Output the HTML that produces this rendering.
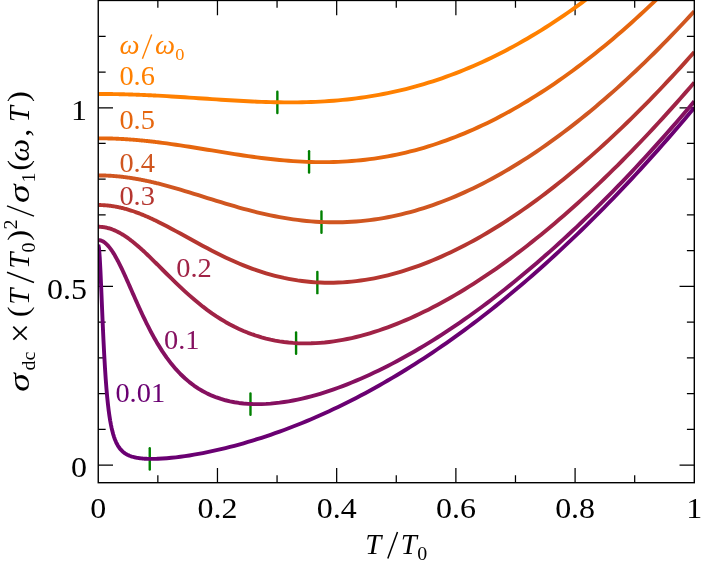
<!DOCTYPE html>
<html><head><meta charset="utf-8"><style>
html,body{margin:0;padding:0;background:#fff;}
body{width:706px;height:564px;overflow:hidden;}
svg{display:block;will-change:transform;font-family:"Liberation Serif",serif;font-size:28.8px;}
</style></head><body>
<svg width="706" height="564" viewBox="0 0 706 564">
<defs><clipPath id="cp"><rect x="98.25" y="0.45" width="596.05" height="482.25"/></clipPath></defs>
<rect width="706" height="564" fill="#fff"/>
<path d="M157.85,482.70 v-7.40 M157.85,0.45 v7.40 M217.46,482.70 v-14.75 M217.46,0.45 v14.75 M277.06,482.70 v-7.40 M277.06,0.45 v7.40 M336.67,482.70 v-14.75 M336.67,0.45 v14.75 M396.27,482.70 v-7.40 M396.27,0.45 v7.40 M455.88,482.70 v-14.75 M455.88,0.45 v14.75 M515.48,482.70 v-7.40 M515.48,0.45 v7.40 M575.09,482.70 v-14.75 M575.09,0.45 v14.75 M634.69,482.70 v-7.40 M634.69,0.45 v7.40 M98.25,465.00 h14.75 M694.30,465.00 h-14.75 M98.25,429.27 h7.40 M694.30,429.27 h-7.40 M98.25,393.55 h7.40 M694.30,393.55 h-7.40 M98.25,357.82 h7.40 M694.30,357.82 h-7.40 M98.25,322.10 h7.40 M694.30,322.10 h-7.40 M98.25,286.38 h14.75 M694.30,286.38 h-14.75 M98.25,250.65 h7.40 M694.30,250.65 h-7.40 M98.25,214.93 h7.40 M694.30,214.93 h-7.40 M98.25,179.20 h7.40 M694.30,179.20 h-7.40 M98.25,143.47 h7.40 M694.30,143.47 h-7.40 M98.25,107.75 h14.75 M694.30,107.75 h-14.75 M98.25,72.02 h7.40 M694.30,72.02 h-7.40 M98.25,36.30 h7.40 M694.30,36.30 h-7.40" stroke="#000" stroke-width="1.25" fill="none"/>
<g fill="none" stroke="#008000" stroke-width="2.4" stroke-linecap="round">
<path d="M149.75,448.29 v21.30"/>
<path d="M250.48,393.38 v21.30"/>
<path d="M296.08,332.50 v21.30"/>
<path d="M317.36,271.83 v21.30"/>
<path d="M321.47,211.42 v21.30"/>
<path d="M309.07,151.32 v21.30"/>
<path d="M277.36,91.68 v21.30"/>
</g>
<g fill="none" stroke-width="3.9" stroke-linejoin="round" stroke-linecap="butt" clip-path="url(#cp)">
<path d="M98.25,244.61 L99.00,247.97 L99.74,257.54 L100.49,271.74 L101.23,288.64 L101.98,306.46 L102.72,323.88 L103.47,340.09 L104.21,354.70 L104.96,367.59 L105.70,378.84 L106.45,388.58 L107.19,396.98 L107.94,404.22 L108.68,410.48 L109.43,415.89 L110.17,420.58 L110.92,424.66 L111.66,428.23 L112.41,431.35 L113.15,434.10 L113.90,436.52 L114.64,438.67 L115.39,440.58 L116.13,442.28 L116.88,443.80 L117.62,445.17 L118.37,446.39 L119.11,447.50 L119.86,448.50 L120.60,449.41 L121.35,450.23 L122.09,450.98 L122.84,451.66 L123.58,452.28 L124.33,452.85 L125.07,453.37 L125.82,453.85 L126.56,454.29 L127.31,454.69 L128.05,455.06 L128.80,455.40 L129.54,455.72 L130.29,456.01 L131.03,456.28 L131.78,456.53 L132.52,456.75 L133.27,456.97 L134.01,457.16 L134.76,457.34 L135.50,457.51 L136.25,457.66 L136.99,457.80 L137.74,457.93 L138.48,458.05 L139.23,458.15 L139.97,458.25 L140.72,458.34 L141.46,458.43 L142.21,458.50 L142.95,458.57 L143.70,458.63 L144.44,458.68 L145.19,458.73 L145.93,458.77 L146.68,458.80 L147.42,458.83 L148.17,458.86 L148.91,458.88 L149.66,458.89 L150.40,458.90 L151.15,458.91 L151.89,458.91 L152.64,458.91 L153.38,458.90 L154.13,458.89 L154.87,458.88 L155.62,458.86 L156.36,458.84 L157.11,458.81 L157.85,458.79 L162.36,458.55 L166.87,458.23 L171.38,457.81 L175.89,457.32 L180.39,456.76 L184.90,456.13 L189.41,455.45 L193.92,454.70 L198.43,453.91 L202.93,453.06 L207.44,452.16 L211.95,451.21 L216.46,450.22 L220.97,449.17 L225.47,448.08 L229.98,446.95 L234.49,445.77 L239.00,444.55 L243.51,443.28 L248.01,441.97 L252.52,440.62 L257.03,439.22 L261.54,437.79 L266.05,436.30 L270.55,434.78 L275.06,433.21 L279.57,431.61 L284.08,429.96 L288.59,428.26 L293.09,426.53 L297.60,424.76 L302.11,422.94 L306.62,421.08 L311.12,419.18 L315.63,417.24 L320.14,415.26 L324.65,413.23 L329.16,411.17 L333.66,409.06 L338.17,406.91 L342.68,404.72 L347.19,402.49 L351.70,400.22 L356.20,397.91 L360.71,395.55 L365.22,393.16 L369.73,390.72 L374.24,388.24 L378.74,385.72 L383.25,383.17 L387.76,380.56 L392.27,377.92 L396.78,375.24 L401.28,372.52 L405.79,369.75 L410.30,366.95 L414.81,364.10 L419.32,361.21 L423.82,358.28 L428.33,355.31 L432.84,352.30 L437.35,349.25 L441.86,346.16 L446.36,343.03 L450.87,339.85 L455.38,336.64 L459.89,333.38 L464.39,330.08 L468.90,326.74 L473.41,323.37 L477.92,319.95 L482.43,316.48 L486.93,312.98 L491.44,309.44 L495.95,305.86 L500.46,302.23 L504.97,298.57 L509.47,294.86 L513.98,291.11 L518.49,287.32 L523.00,283.50 L527.51,279.63 L532.01,275.71 L536.52,271.76 L541.03,267.77 L545.54,263.74 L550.05,259.66 L554.55,255.55 L559.06,251.39 L563.57,247.19 L568.08,242.95 L572.59,238.68 L577.09,234.36 L581.60,229.99 L586.11,225.59 L590.62,221.15 L595.13,216.67 L599.63,212.14 L604.14,207.58 L608.65,202.97 L613.16,198.32 L617.66,193.64 L622.17,188.91 L626.68,184.14 L631.19,179.33 L635.70,174.48 L640.20,169.58 L644.71,164.65 L649.22,159.68 L653.73,154.66 L658.24,149.60 L662.74,144.51 L667.25,139.37 L671.76,134.19 L676.27,128.97 L680.78,123.71 L685.28,118.41 L689.79,113.07 L694.30,107.69" stroke="#6a0072"/>
<path d="M98.25,240.11 L99.00,240.15 L99.74,240.25 L100.49,240.41 L101.23,240.65 L101.98,240.95 L102.72,241.31 L103.47,241.74 L104.21,242.23 L104.96,242.79 L105.70,243.40 L106.45,244.08 L107.19,244.81 L107.94,245.61 L108.68,246.46 L109.43,247.37 L110.17,248.33 L110.92,249.34 L111.66,250.40 L112.41,251.51 L113.15,252.66 L113.90,253.86 L114.64,255.11 L115.39,256.39 L116.13,257.71 L116.88,259.07 L117.62,260.47 L118.37,261.89 L119.11,263.35 L119.86,264.84 L120.60,266.35 L121.35,267.89 L122.09,269.45 L122.84,271.03 L123.58,272.63 L124.33,274.25 L125.07,275.88 L125.82,277.52 L126.56,279.18 L127.31,280.85 L128.05,282.53 L128.80,284.21 L129.54,285.90 L130.29,287.60 L131.03,289.29 L131.78,290.99 L132.52,292.69 L133.27,294.38 L134.01,296.07 L134.76,297.76 L135.50,299.44 L136.25,301.12 L136.99,302.79 L137.74,304.46 L138.48,306.11 L139.23,307.75 L139.97,309.39 L140.72,311.01 L141.46,312.62 L142.21,314.22 L142.95,315.80 L143.70,317.37 L144.44,318.93 L145.19,320.47 L145.93,322.00 L146.68,323.51 L147.42,325.01 L148.17,326.49 L148.91,327.95 L149.66,329.39 L150.40,330.82 L151.15,332.24 L151.89,333.63 L152.64,335.01 L153.38,336.37 L154.13,337.71 L154.87,339.03 L155.62,340.34 L156.36,341.62 L157.11,342.89 L157.85,344.14 L162.36,351.34 L166.87,357.88 L171.38,363.81 L175.89,369.17 L180.39,373.97 L184.90,378.28 L189.41,382.12 L193.92,385.55 L198.43,388.58 L202.93,391.25 L207.44,393.61 L211.95,395.66 L216.46,397.44 L220.97,398.97 L225.47,400.27 L229.98,401.35 L234.49,402.24 L239.00,402.94 L243.51,403.47 L248.01,403.84 L252.52,404.06 L257.03,404.14 L261.54,404.08 L266.05,403.90 L270.55,403.60 L275.06,403.18 L279.57,402.66 L284.08,402.03 L288.59,401.30 L293.09,400.48 L297.60,399.57 L302.11,398.57 L306.62,397.49 L311.12,396.32 L315.63,395.08 L320.14,393.76 L324.65,392.36 L329.16,390.89 L333.66,389.35 L338.17,387.75 L342.68,386.07 L347.19,384.34 L351.70,382.53 L356.20,380.67 L360.71,378.74 L365.22,376.75 L369.73,374.71 L374.24,372.60 L378.74,370.44 L383.25,368.22 L387.76,365.95 L392.27,363.62 L396.78,361.24 L401.28,358.81 L405.79,356.32 L410.30,353.78 L414.81,351.19 L419.32,348.55 L423.82,345.85 L428.33,343.11 L432.84,340.32 L437.35,337.48 L441.86,334.59 L446.36,331.65 L450.87,328.67 L455.38,325.63 L459.89,322.55 L464.39,319.43 L468.90,316.25 L473.41,313.03 L477.92,309.76 L482.43,306.45 L486.93,303.09 L491.44,299.69 L495.95,296.24 L500.46,292.74 L504.97,289.20 L509.47,285.62 L513.98,281.99 L518.49,278.31 L523.00,274.59 L527.51,270.83 L532.01,267.02 L536.52,263.17 L541.03,259.28 L545.54,255.34 L550.05,251.36 L554.55,247.33 L559.06,243.26 L563.57,239.15 L568.08,234.99 L572.59,230.80 L577.09,226.55 L581.60,222.27 L586.11,217.94 L590.62,213.57 L595.13,209.16 L599.63,204.70 L604.14,200.20 L608.65,195.66 L613.16,191.07 L617.66,186.45 L622.17,181.78 L626.68,177.07 L631.19,172.31 L635.70,167.52 L640.20,162.68 L644.71,157.80 L649.22,152.88 L653.73,147.91 L658.24,142.91 L662.74,137.86 L667.25,132.77 L671.76,127.63 L676.27,122.46 L680.78,117.24 L685.28,111.98 L689.79,106.68 L694.30,101.34" stroke="#851060"/>
<path d="M98.25,226.76 L99.00,226.77 L99.74,226.79 L100.49,226.83 L101.23,226.88 L101.98,226.95 L102.72,227.04 L103.47,227.13 L104.21,227.25 L104.96,227.38 L105.70,227.52 L106.45,227.68 L107.19,227.86 L107.94,228.04 L108.68,228.25 L109.43,228.46 L110.17,228.70 L110.92,228.94 L111.66,229.20 L112.41,229.48 L113.15,229.77 L113.90,230.07 L114.64,230.39 L115.39,230.72 L116.13,231.06 L116.88,231.41 L117.62,231.78 L118.37,232.17 L119.11,232.56 L119.86,232.97 L120.60,233.39 L121.35,233.82 L122.09,234.26 L122.84,234.71 L123.58,235.18 L124.33,235.66 L125.07,236.14 L125.82,236.64 L126.56,237.15 L127.31,237.67 L128.05,238.20 L128.80,238.74 L129.54,239.29 L130.29,239.85 L131.03,240.42 L131.78,240.99 L132.52,241.58 L133.27,242.17 L134.01,242.78 L134.76,243.39 L135.50,244.01 L136.25,244.63 L136.99,245.26 L137.74,245.90 L138.48,246.55 L139.23,247.20 L139.97,247.86 L140.72,248.53 L141.46,249.20 L142.21,249.88 L142.95,250.56 L143.70,251.25 L144.44,251.94 L145.19,252.64 L145.93,253.34 L146.68,254.04 L147.42,254.75 L148.17,255.47 L148.91,256.18 L149.66,256.90 L150.40,257.63 L151.15,258.35 L151.89,259.08 L152.64,259.81 L153.38,260.55 L154.13,261.28 L154.87,262.02 L155.62,262.76 L156.36,263.50 L157.11,264.24 L157.85,264.99 L162.36,269.50 L166.87,274.00 L171.38,278.47 L175.89,282.87 L180.39,287.18 L184.90,291.36 L189.41,295.42 L193.92,299.33 L198.43,303.08 L202.93,306.66 L207.44,310.07 L211.95,313.31 L216.46,316.36 L220.97,319.24 L225.47,321.94 L229.98,324.45 L234.49,326.80 L239.00,328.97 L243.51,330.97 L248.01,332.80 L252.52,334.47 L257.03,335.99 L261.54,337.35 L266.05,338.56 L270.55,339.62 L275.06,340.55 L279.57,341.33 L284.08,341.99 L288.59,342.51 L293.09,342.91 L297.60,343.18 L302.11,343.34 L306.62,343.37 L311.12,343.30 L315.63,343.12 L320.14,342.83 L324.65,342.44 L329.16,341.94 L333.66,341.35 L338.17,340.66 L342.68,339.88 L347.19,339.01 L351.70,338.04 L356.20,336.99 L360.71,335.86 L365.22,334.64 L369.73,333.34 L374.24,331.95 L378.74,330.49 L383.25,328.95 L387.76,327.34 L392.27,325.65 L396.78,323.89 L401.28,322.06 L405.79,320.16 L410.30,318.19 L414.81,316.14 L419.32,314.04 L423.82,311.86 L428.33,309.63 L432.84,307.32 L437.35,304.96 L441.86,302.53 L446.36,300.04 L450.87,297.49 L455.38,294.88 L459.89,292.21 L464.39,289.48 L468.90,286.69 L473.41,283.85 L477.92,280.95 L482.43,277.99 L486.93,274.98 L491.44,271.91 L495.95,268.79 L500.46,265.61 L504.97,262.38 L509.47,259.10 L513.98,255.76 L518.49,252.37 L523.00,248.93 L527.51,245.44 L532.01,241.90 L536.52,238.31 L541.03,234.66 L545.54,230.97 L550.05,227.22 L554.55,223.43 L559.06,219.59 L563.57,215.69 L568.08,211.75 L572.59,207.76 L577.09,203.73 L581.60,199.64 L586.11,195.51 L590.62,191.33 L595.13,187.10 L599.63,182.83 L604.14,178.50 L608.65,174.13 L613.16,169.72 L617.66,165.26 L622.17,160.75 L626.68,156.20 L631.19,151.60 L635.70,146.95 L640.20,142.26 L644.71,137.52 L649.22,132.74 L653.73,127.91 L658.24,123.04 L662.74,118.12 L667.25,113.16 L671.76,108.16 L676.27,103.10 L680.78,98.01 L685.28,92.87 L689.79,87.68 L694.30,82.45" stroke="#a02346"/>
<path d="M98.25,205.03 L99.00,205.03 L99.74,205.04 L100.49,205.06 L101.23,205.08 L101.98,205.10 L102.72,205.14 L103.47,205.18 L104.21,205.22 L104.96,205.27 L105.70,205.33 L106.45,205.39 L107.19,205.45 L107.94,205.53 L108.68,205.61 L109.43,205.69 L110.17,205.78 L110.92,205.88 L111.66,205.98 L112.41,206.09 L113.15,206.20 L113.90,206.32 L114.64,206.45 L115.39,206.58 L116.13,206.71 L116.88,206.85 L117.62,207.00 L118.37,207.15 L119.11,207.31 L119.86,207.47 L120.60,207.64 L121.35,207.81 L122.09,207.99 L122.84,208.18 L123.58,208.37 L124.33,208.56 L125.07,208.76 L125.82,208.96 L126.56,209.17 L127.31,209.39 L128.05,209.60 L128.80,209.83 L129.54,210.06 L130.29,210.29 L131.03,210.53 L131.78,210.77 L132.52,211.02 L133.27,211.27 L134.01,211.52 L134.76,211.78 L135.50,212.05 L136.25,212.32 L136.99,212.59 L137.74,212.87 L138.48,213.15 L139.23,213.44 L139.97,213.73 L140.72,214.02 L141.46,214.32 L142.21,214.62 L142.95,214.92 L143.70,215.23 L144.44,215.54 L145.19,215.86 L145.93,216.18 L146.68,216.50 L147.42,216.82 L148.17,217.15 L148.91,217.49 L149.66,217.82 L150.40,218.16 L151.15,218.50 L151.89,218.84 L152.64,219.19 L153.38,219.54 L154.13,219.90 L154.87,220.25 L155.62,220.61 L156.36,220.97 L157.11,221.33 L157.85,221.70 L162.36,223.96 L166.87,226.29 L171.38,228.68 L175.89,231.11 L180.39,233.57 L184.90,236.05 L189.41,238.54 L193.92,241.02 L198.43,243.48 L202.93,245.91 L207.44,248.31 L211.95,250.66 L216.46,252.96 L220.97,255.20 L225.47,257.38 L229.98,259.49 L234.49,261.51 L239.00,263.46 L243.51,265.33 L248.01,267.11 L252.52,268.80 L257.03,270.39 L261.54,271.89 L266.05,273.30 L270.55,274.61 L275.06,275.82 L279.57,276.94 L284.08,277.96 L288.59,278.87 L293.09,279.69 L297.60,280.42 L302.11,281.04 L306.62,281.56 L311.12,281.99 L315.63,282.33 L320.14,282.56 L324.65,282.71 L329.16,282.75 L333.66,282.71 L338.17,282.57 L342.68,282.35 L347.19,282.03 L351.70,281.62 L356.20,281.13 L360.71,280.55 L365.22,279.88 L369.73,279.13 L374.24,278.30 L378.74,277.38 L383.25,276.38 L387.76,275.30 L392.27,274.14 L396.78,272.90 L401.28,271.59 L405.79,270.19 L410.30,268.73 L414.81,267.18 L419.32,265.56 L423.82,263.87 L428.33,262.11 L432.84,260.28 L437.35,258.37 L441.86,256.40 L446.36,254.35 L450.87,252.24 L455.38,250.06 L459.89,247.82 L464.39,245.51 L468.90,243.13 L473.41,240.69 L477.92,238.18 L482.43,235.61 L486.93,232.98 L491.44,230.29 L495.95,227.53 L500.46,224.72 L504.97,221.84 L509.47,218.90 L513.98,215.91 L518.49,212.86 L523.00,209.74 L527.51,206.57 L532.01,203.34 L536.52,200.06 L541.03,196.72 L545.54,193.32 L550.05,189.87 L554.55,186.36 L559.06,182.80 L563.57,179.18 L568.08,175.51 L572.59,171.79 L577.09,168.01 L581.60,164.18 L586.11,160.30 L590.62,156.36 L595.13,152.37 L599.63,148.33 L604.14,144.24 L608.65,140.10 L613.16,135.91 L617.66,131.66 L622.17,127.37 L626.68,123.03 L631.19,118.63 L635.70,114.19 L640.20,109.70 L644.71,105.15 L649.22,100.56 L653.73,95.92 L658.24,91.24 L662.74,86.50 L667.25,81.71 L671.76,76.88 L676.27,72.00 L680.78,67.07 L685.28,62.10 L689.79,57.07 L694.30,52.00" stroke="#b53630"/>
<path d="M98.25,175.42 L99.00,175.43 L99.74,175.43 L100.49,175.44 L101.23,175.45 L101.98,175.46 L102.72,175.47 L103.47,175.49 L104.21,175.51 L104.96,175.54 L105.70,175.56 L106.45,175.59 L107.19,175.62 L107.94,175.65 L108.68,175.69 L109.43,175.73 L110.17,175.77 L110.92,175.82 L111.66,175.86 L112.41,175.91 L113.15,175.97 L113.90,176.02 L114.64,176.08 L115.39,176.14 L116.13,176.20 L116.88,176.27 L117.62,176.34 L118.37,176.41 L119.11,176.48 L119.86,176.56 L120.60,176.64 L121.35,176.72 L122.09,176.80 L122.84,176.89 L123.58,176.98 L124.33,177.07 L125.07,177.16 L125.82,177.26 L126.56,177.36 L127.31,177.46 L128.05,177.56 L128.80,177.67 L129.54,177.77 L130.29,177.88 L131.03,178.00 L131.78,178.11 L132.52,178.23 L133.27,178.35 L134.01,178.47 L134.76,178.60 L135.50,178.72 L136.25,178.85 L136.99,178.98 L137.74,179.12 L138.48,179.25 L139.23,179.39 L139.97,179.53 L140.72,179.67 L141.46,179.82 L142.21,179.96 L142.95,180.11 L143.70,180.26 L144.44,180.41 L145.19,180.57 L145.93,180.72 L146.68,180.88 L147.42,181.04 L148.17,181.20 L148.91,181.37 L149.66,181.53 L150.40,181.70 L151.15,181.87 L151.89,182.04 L152.64,182.21 L153.38,182.39 L154.13,182.56 L154.87,182.74 L155.62,182.92 L156.36,183.10 L157.11,183.28 L157.85,183.47 L162.36,184.62 L166.87,185.82 L171.38,187.06 L175.89,188.35 L180.39,189.68 L184.90,191.03 L189.41,192.40 L193.92,193.79 L198.43,195.20 L202.93,196.61 L207.44,198.02 L211.95,199.43 L216.46,200.83 L220.97,202.21 L225.47,203.58 L229.98,204.92 L234.49,206.24 L239.00,207.52 L243.51,208.77 L248.01,209.98 L252.52,211.15 L257.03,212.28 L261.54,213.35 L266.05,214.37 L270.55,215.35 L275.06,216.26 L279.57,217.12 L284.08,217.91 L288.59,218.65 L293.09,219.32 L297.60,219.93 L302.11,220.47 L306.62,220.94 L311.12,221.35 L315.63,221.69 L320.14,221.95 L324.65,222.15 L329.16,222.27 L333.66,222.32 L338.17,222.30 L342.68,222.21 L347.19,222.04 L351.70,221.80 L356.20,221.49 L360.71,221.10 L365.22,220.64 L369.73,220.11 L374.24,219.50 L378.74,218.82 L383.25,218.07 L387.76,217.24 L392.27,216.35 L396.78,215.38 L401.28,214.34 L405.79,213.22 L410.30,212.04 L414.81,210.78 L419.32,209.46 L423.82,208.06 L428.33,206.59 L432.84,205.06 L437.35,203.45 L441.86,201.78 L446.36,200.04 L450.87,198.23 L455.38,196.35 L459.89,194.41 L464.39,192.40 L468.90,190.33 L473.41,188.19 L477.92,185.98 L482.43,183.71 L486.93,181.37 L491.44,178.98 L495.95,176.51 L500.46,173.99 L504.97,171.40 L509.47,168.75 L513.98,166.04 L518.49,163.27 L523.00,160.44 L527.51,157.55 L532.01,154.59 L536.52,151.58 L541.03,148.51 L545.54,145.38 L550.05,142.19 L554.55,138.94 L559.06,135.64 L563.57,132.28 L568.08,128.86 L572.59,125.38 L577.09,121.85 L581.60,118.26 L586.11,114.62 L590.62,110.92 L595.13,107.17 L599.63,103.36 L604.14,99.50 L608.65,95.58 L613.16,91.61 L617.66,87.58 L622.17,83.51 L626.68,79.38 L631.19,75.19 L635.70,70.96 L640.20,66.67 L644.71,62.33 L649.22,57.93 L653.73,53.49 L658.24,49.00 L662.74,44.45 L667.25,39.85 L671.76,35.21 L676.27,30.51 L680.78,25.76 L685.28,20.96 L689.79,16.11 L694.30,11.22" stroke="#d05620"/>
<path d="M98.25,138.33 L99.00,138.33 L99.74,138.33 L100.49,138.33 L101.23,138.34 L101.98,138.34 L102.72,138.35 L103.47,138.36 L104.21,138.37 L104.96,138.38 L105.70,138.39 L106.45,138.41 L107.19,138.42 L107.94,138.44 L108.68,138.45 L109.43,138.47 L110.17,138.49 L110.92,138.51 L111.66,138.54 L112.41,138.56 L113.15,138.59 L113.90,138.61 L114.64,138.64 L115.39,138.67 L116.13,138.70 L116.88,138.73 L117.62,138.77 L118.37,138.80 L119.11,138.84 L119.86,138.87 L120.60,138.91 L121.35,138.95 L122.09,138.99 L122.84,139.03 L123.58,139.07 L124.33,139.12 L125.07,139.16 L125.82,139.21 L126.56,139.26 L127.31,139.31 L128.05,139.36 L128.80,139.41 L129.54,139.46 L130.29,139.51 L131.03,139.57 L131.78,139.62 L132.52,139.68 L133.27,139.74 L134.01,139.80 L134.76,139.86 L135.50,139.92 L136.25,139.98 L136.99,140.05 L137.74,140.11 L138.48,140.18 L139.23,140.25 L139.97,140.32 L140.72,140.38 L141.46,140.45 L142.21,140.53 L142.95,140.60 L143.70,140.67 L144.44,140.75 L145.19,140.82 L145.93,140.90 L146.68,140.98 L147.42,141.06 L148.17,141.14 L148.91,141.22 L149.66,141.30 L150.40,141.38 L151.15,141.46 L151.89,141.55 L152.64,141.63 L153.38,141.72 L154.13,141.81 L154.87,141.90 L155.62,141.98 L156.36,142.07 L157.11,142.17 L157.85,142.26 L162.36,142.83 L166.87,143.43 L171.38,144.06 L175.89,144.71 L180.39,145.38 L184.90,146.07 L189.41,146.78 L193.92,147.50 L198.43,148.23 L202.93,148.97 L207.44,149.71 L211.95,150.45 L216.46,151.20 L220.97,151.93 L225.47,152.67 L229.98,153.39 L234.49,154.10 L239.00,154.79 L243.51,155.47 L248.01,156.13 L252.52,156.76 L257.03,157.37 L261.54,157.95 L266.05,158.51 L270.55,159.03 L275.06,159.52 L279.57,159.97 L284.08,160.38 L288.59,160.76 L293.09,161.09 L297.60,161.38 L302.11,161.63 L306.62,161.83 L311.12,161.99 L315.63,162.09 L320.14,162.15 L324.65,162.15 L329.16,162.10 L333.66,162.00 L338.17,161.85 L342.68,161.64 L347.19,161.37 L351.70,161.05 L356.20,160.67 L360.71,160.23 L365.22,159.74 L369.73,159.18 L374.24,158.56 L378.74,157.89 L383.25,157.15 L387.76,156.36 L392.27,155.50 L396.78,154.58 L401.28,153.60 L405.79,152.55 L410.30,151.45 L414.81,150.28 L419.32,149.05 L423.82,147.76 L428.33,146.41 L432.84,144.99 L437.35,143.51 L441.86,141.97 L446.36,140.37 L450.87,138.70 L455.38,136.97 L459.89,135.18 L464.39,133.33 L468.90,131.42 L473.41,129.44 L477.92,127.40 L482.43,125.30 L486.93,123.14 L491.44,120.92 L495.95,118.64 L500.46,116.29 L504.97,113.89 L509.47,111.43 L513.98,108.90 L518.49,106.32 L523.00,103.68 L527.51,100.97 L532.01,98.21 L536.52,95.39 L541.03,92.51 L545.54,89.57 L550.05,86.57 L554.55,83.52 L559.06,80.41 L563.57,77.24 L568.08,74.01 L572.59,70.73 L577.09,67.39 L581.60,63.99 L586.11,60.53 L590.62,57.02 L595.13,53.46 L599.63,49.84 L604.14,46.16 L608.65,42.43 L613.16,38.64 L617.66,34.80 L622.17,30.91 L626.68,26.96 L631.19,22.95 L635.70,18.89 L640.20,14.78 L644.71,10.62 L649.22,6.40 L653.73,2.13 L658.24,-2.19 L662.74,-6.57 L667.25,-11.00 L671.76,-15.48 L676.27,-20.01 L680.78,-24.59 L685.28,-29.23 L689.79,-33.91 L694.30,-38.65" stroke="#e6660e"/>
<path d="M98.25,93.97 L99.00,93.97 L99.74,93.97 L100.49,93.97 L101.23,93.97 L101.98,93.97 L102.72,93.98 L103.47,93.98 L104.21,93.98 L104.96,93.99 L105.70,93.99 L106.45,94.00 L107.19,94.01 L107.94,94.01 L108.68,94.02 L109.43,94.03 L110.17,94.04 L110.92,94.05 L111.66,94.06 L112.41,94.07 L113.15,94.08 L113.90,94.09 L114.64,94.10 L115.39,94.12 L116.13,94.13 L116.88,94.14 L117.62,94.16 L118.37,94.17 L119.11,94.19 L119.86,94.20 L120.60,94.22 L121.35,94.24 L122.09,94.25 L122.84,94.27 L123.58,94.29 L124.33,94.31 L125.07,94.33 L125.82,94.35 L126.56,94.37 L127.31,94.39 L128.05,94.41 L128.80,94.44 L129.54,94.46 L130.29,94.48 L131.03,94.50 L131.78,94.53 L132.52,94.55 L133.27,94.58 L134.01,94.60 L134.76,94.63 L135.50,94.66 L136.25,94.68 L136.99,94.71 L137.74,94.74 L138.48,94.77 L139.23,94.80 L139.97,94.83 L140.72,94.86 L141.46,94.89 L142.21,94.92 L142.95,94.95 L143.70,94.98 L144.44,95.01 L145.19,95.05 L145.93,95.08 L146.68,95.11 L147.42,95.15 L148.17,95.18 L148.91,95.22 L149.66,95.25 L150.40,95.29 L151.15,95.32 L151.89,95.36 L152.64,95.40 L153.38,95.43 L154.13,95.47 L154.87,95.51 L155.62,95.55 L156.36,95.59 L157.11,95.63 L157.85,95.67 L162.36,95.91 L166.87,96.17 L171.38,96.44 L175.89,96.72 L180.39,97.00 L184.90,97.30 L189.41,97.60 L193.92,97.90 L198.43,98.20 L202.93,98.51 L207.44,98.82 L211.95,99.12 L216.46,99.42 L220.97,99.71 L225.47,100.00 L229.98,100.28 L234.49,100.55 L239.00,100.80 L243.51,101.05 L248.01,101.27 L252.52,101.48 L257.03,101.68 L261.54,101.85 L266.05,102.00 L270.55,102.13 L275.06,102.23 L279.57,102.31 L284.08,102.36 L288.59,102.38 L293.09,102.37 L297.60,102.33 L302.11,102.26 L306.62,102.15 L311.12,102.01 L315.63,101.83 L320.14,101.61 L324.65,101.35 L329.16,101.06 L333.66,100.72 L338.17,100.34 L342.68,99.92 L347.19,99.45 L351.70,98.94 L356.20,98.38 L360.71,97.78 L365.22,97.13 L369.73,96.43 L374.24,95.68 L378.74,94.89 L383.25,94.04 L387.76,93.14 L392.27,92.20 L396.78,91.20 L401.28,90.15 L405.79,89.04 L410.30,87.89 L414.81,86.68 L419.32,85.41 L423.82,84.10 L428.33,82.73 L432.84,81.30 L437.35,79.82 L441.86,78.28 L446.36,76.69 L450.87,75.04 L455.38,73.34 L459.89,71.58 L464.39,69.77 L468.90,67.90 L473.41,65.97 L477.92,63.99 L482.43,61.95 L486.93,59.86 L491.44,57.70 L495.95,55.49 L500.46,53.23 L504.97,50.91 L509.47,48.53 L513.98,46.10 L518.49,43.60 L523.00,41.06 L527.51,38.45 L532.01,35.79 L536.52,33.08 L541.03,30.31 L545.54,27.48 L550.05,24.59 L554.55,21.65 L559.06,18.66 L563.57,15.61 L568.08,12.50 L572.59,9.34 L577.09,6.12 L581.60,2.84 L586.11,-0.48 L590.62,-3.87 L595.13,-7.30 L599.63,-10.80 L604.14,-14.34 L608.65,-17.94 L613.16,-21.60 L617.66,-25.31 L622.17,-29.07 L626.68,-32.89 L631.19,-36.76 L635.70,-40.69 L640.20,-44.66 L644.71,-48.70 L649.22,-52.78 L653.73,-56.92 L658.24,-61.11 L662.74,-65.35 L667.25,-69.64 L671.76,-73.99 L676.27,-78.39 L680.78,-82.84 L685.28,-87.35 L689.79,-91.90 L694.30,-96.51" stroke="#ff8000"/>
</g>
<rect x="98.25" y="0.45" width="596.05" height="482.25" fill="none" stroke="#000" stroke-width="1.4"/>
<g fill="#000">
<text transform="translate(98.25,518.20) scale(1.110,1.000)" text-anchor="middle" font-size="28.80">0</text>
<text transform="translate(217.46,518.20) scale(1.110,1.000)" text-anchor="middle" font-size="28.80">0.2</text>
<text transform="translate(336.67,518.20) scale(1.110,1.000)" text-anchor="middle" font-size="28.80">0.4</text>
<text transform="translate(455.88,518.20) scale(1.110,1.000)" text-anchor="middle" font-size="28.80">0.6</text>
<text transform="translate(575.09,518.20) scale(1.110,1.000)" text-anchor="middle" font-size="28.80">0.8</text>
<text transform="translate(694.30,518.20) scale(1.110,1.000)" text-anchor="middle" font-size="28.80">1</text>
<text transform="translate(86.90,477.30) scale(1.110,1.000)" text-anchor="end" font-size="28.80">0</text>
<text transform="translate(86.90,298.68) scale(1.110,1.000)" text-anchor="end" font-size="28.80">0.5</text>
<text transform="translate(86.90,120.05) scale(1.110,1.000)" text-anchor="end" font-size="28.80">1</text>
<text transform="translate(373.35,553.50) scale(1.000,1.000)" text-anchor="middle" font-size="28.80" font-style="italic">T</text>
<text transform="translate(408.85,553.50) scale(1.000,1.000)" text-anchor="middle" font-size="28.80" font-style="italic">T</text>
<text transform="translate(422.20,559.50) scale(1.110,1.000)" text-anchor="middle" font-size="18.00">0</text>
<path d="M387.8,558.6 L397.5,531.9" stroke="#000" stroke-width="1.5" fill="none"/>
<g transform="translate(29,390.4) rotate(-90)">
<text transform="translate(7.90,0.00) scale(1.300,1.000)" text-anchor="middle" font-size="28.80" font-style="italic">σ</text>
<text transform="translate(29.40,6.00) scale(1.110,1.000)" text-anchor="middle" font-size="18.00">dc</text>
<text transform="translate(57.30,3.20) scale(1.000,1.000)" text-anchor="middle" font-size="35.00">×</text>
<text transform="translate(78.70,-1.00) scale(1.110,1.000)" text-anchor="middle" font-size="29.50">(</text>
<text transform="translate(93.55,0.00) scale(1.000,1.000)" text-anchor="middle" font-size="28.80" font-style="italic">T</text>
<text transform="translate(129.65,0.00) scale(1.000,1.000)" text-anchor="middle" font-size="28.80" font-style="italic">T</text>
<text transform="translate(143.00,6.00) scale(1.110,1.000)" text-anchor="middle" font-size="18.00">0</text>
<text transform="translate(155.10,-1.00) scale(1.110,1.000)" text-anchor="middle" font-size="29.50">)</text>
<text transform="translate(165.90,-12.00) scale(1.110,1.000)" text-anchor="middle" font-size="18.00">2</text>
<text transform="translate(196.70,0.00) scale(1.300,1.000)" text-anchor="middle" font-size="28.80" font-style="italic">σ</text>
<text transform="translate(212.80,6.00) scale(1.110,1.000)" text-anchor="middle" font-size="18.00">1</text>
<text transform="translate(225.00,-1.00) scale(1.110,1.000)" text-anchor="middle" font-size="29.50">(</text>
<text transform="translate(240.20,0.00) scale(1.110,1.000)" text-anchor="middle" font-size="28.80" font-style="italic">ω</text>
<text transform="translate(257.60,0.00) scale(1.110,1.000)" text-anchor="middle" font-size="28.80">,</text>
<text transform="translate(276.05,0.00) scale(1.000,1.000)" text-anchor="middle" font-size="28.80" font-style="italic">T</text>
<text transform="translate(293.80,-1.00) scale(1.110,1.000)" text-anchor="middle" font-size="29.50">)</text>
<path d="M107.90,5 L118.10,-22" stroke="#000" stroke-width="1.5" fill="none"/>
<path d="M174.30,5 L184.50,-22" stroke="#000" stroke-width="1.5" fill="none"/>
</g>
</g>
<g>
<text transform="translate(119.40,84.50) scale(1.080,1.000)" text-anchor="start" font-size="26.30" fill="#ff8000">0.6</text>
<text transform="translate(119.40,129.40) scale(1.080,1.000)" text-anchor="start" font-size="26.30" fill="#e6660e">0.5</text>
<text transform="translate(119.40,172.00) scale(1.080,1.000)" text-anchor="start" font-size="26.30" fill="#d05620">0.4</text>
<text transform="translate(119.40,204.50) scale(1.080,1.000)" text-anchor="start" font-size="26.30" fill="#b53630">0.3</text>
<text transform="translate(176.20,277.40) scale(1.080,1.000)" text-anchor="start" font-size="26.30" fill="#a02346">0.2</text>
<text transform="translate(164.00,349.00) scale(1.080,1.000)" text-anchor="start" font-size="26.30" fill="#851060">0.1</text>
<text transform="translate(115.40,402.40) scale(1.080,1.000)" text-anchor="start" font-size="26.30" fill="#6a0072">0.01</text>
<text transform="translate(129.60,54.20) scale(1.080,1.000)" text-anchor="middle" font-size="26.30" fill="#ff8000" font-style="italic">ω</text>
<text transform="translate(165.00,54.20) scale(1.080,1.000)" text-anchor="middle" font-size="26.30" fill="#ff8000" font-style="italic">ω</text>
<text transform="translate(179.80,59.70) scale(1.080,1.000)" text-anchor="middle" font-size="17.00" fill="#ff8000">0</text>
<path d="M142.4,58.8 L151.7,34.6" stroke="#ff8000" stroke-width="1.4" fill="none"/>
</g>
</svg>
</body></html>
